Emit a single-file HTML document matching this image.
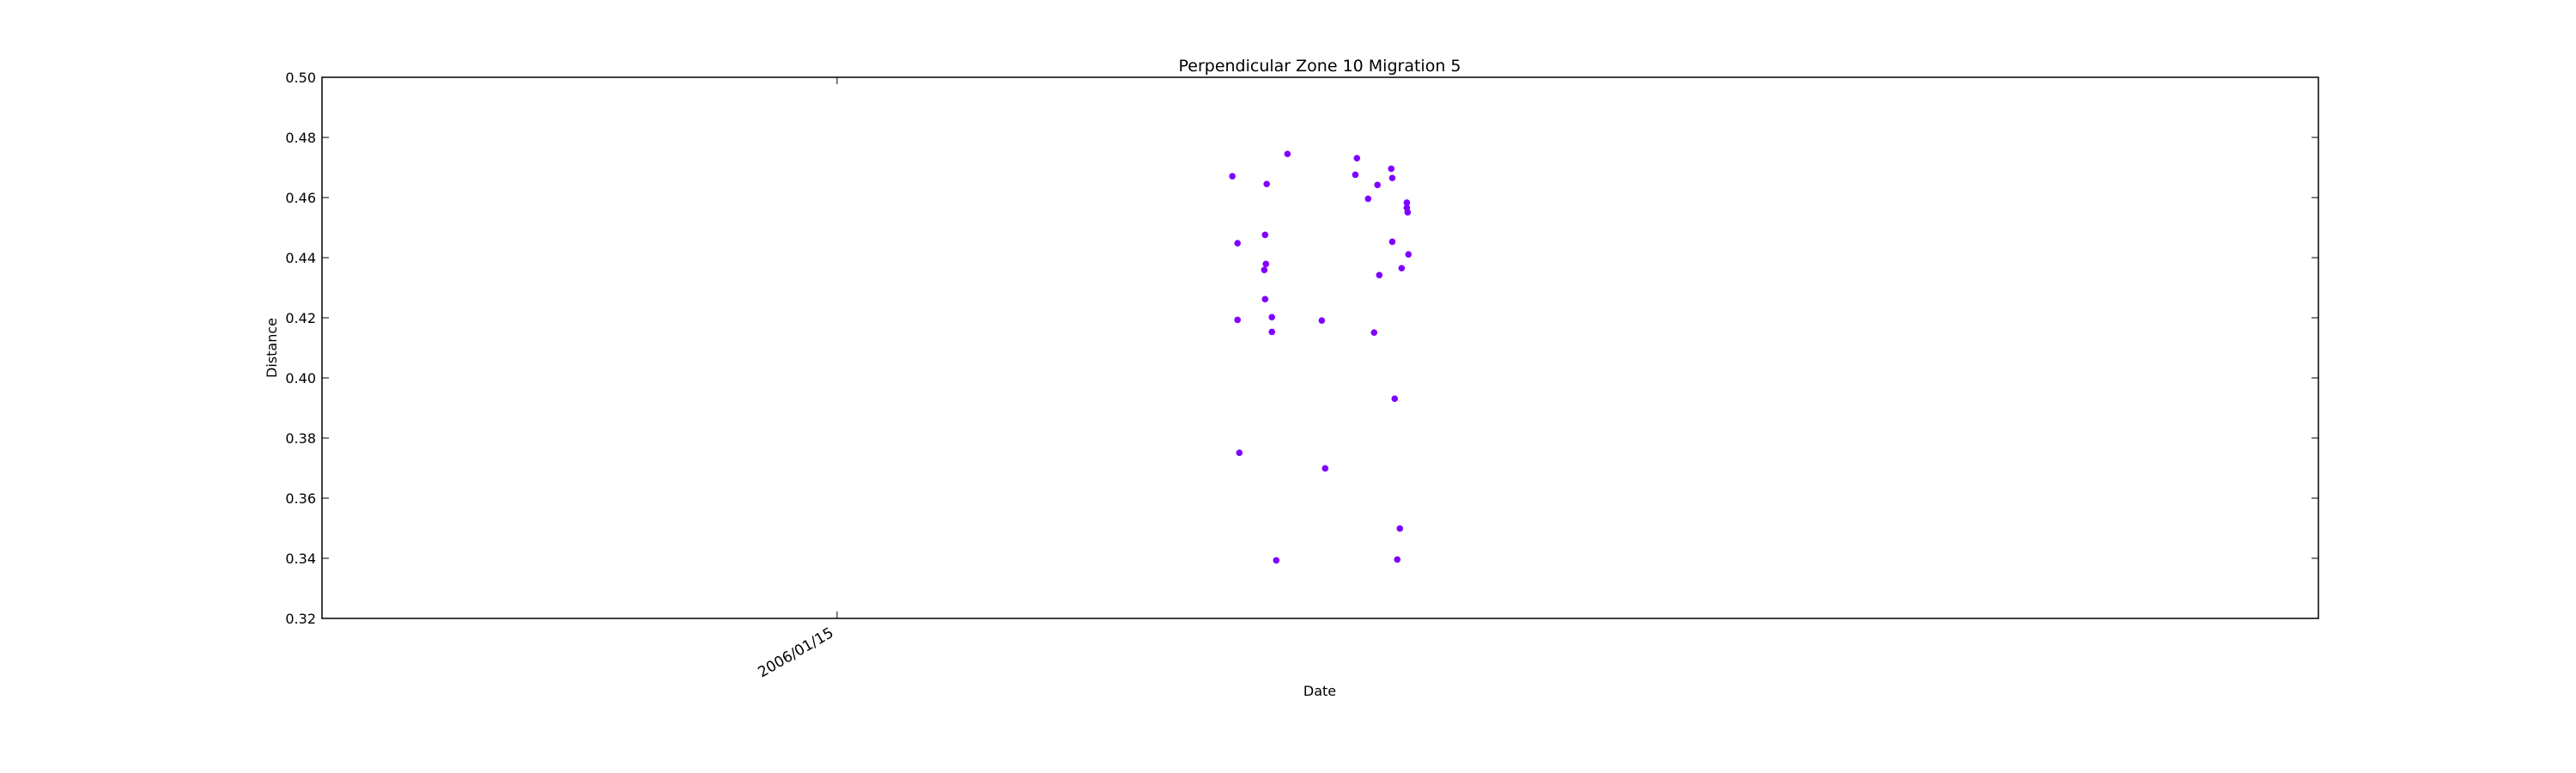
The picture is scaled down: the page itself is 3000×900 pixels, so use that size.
<!DOCTYPE html>
<html><head><meta charset="utf-8"><style>
html,body{margin:0;padding:0;background:#fff;width:3000px;height:900px;overflow:hidden}
svg{display:block;font-family:"DejaVu Sans","Liberation Sans",sans-serif}
</style></head><body>
<svg id="chart" width="3000" height="900">
<rect width="3000" height="900" fill="#fff"/>
<text x="1537" y="83" font-size="19" text-anchor="middle">Perpendicular Zone 10 Migration 5</text>
<text x="1537" y="810" font-size="16" text-anchor="middle">Date</text>
<text transform="translate(322,405) rotate(-90)" font-size="16" text-anchor="middle">Distance</text>
<g id="ticks"></g>
<g id="points"></g>
<rect x="375" y="90" width="2325" height="630" fill="none" stroke="#000" stroke-width="1.5"/>
</svg>
<script>
const yTicks = [0.32,0.34,0.36,0.38,0.40,0.42,0.44,0.46,0.48,0.50];
const yTickLabels = ["0.32","0.34","0.36","0.38","0.40","0.42","0.44","0.46","0.48","0.50"];
const xTicks = [25.8];
const xTickLabels = ["2006/01/15"];
const xValues = [48.36,45.60,47.32,51.84,51.76,53.56,53.61,52.87,52.40,54.34,54.34,54.38,47.24,45.86,53.61,54.42,47.28,47.20,54.08,52.96,47.24,45.86,47.58,50.08,47.58,52.70,53.73,45.95,50.25,53.99,47.80,53.86];
const yValues = [0.4745,0.4671,0.4645,0.4731,0.4676,0.4696,0.4665,0.4642,0.4596,0.4583,0.4566,0.4551,0.4476,0.4448,0.4453,0.4411,0.4379,0.4359,0.4365,0.4342,0.4262,0.4193,0.4202,0.4191,0.4153,0.4151,0.3931,0.3751,0.3699,0.3499,0.3393,0.3396];

const L=375,R=2700,T=90,B=720;
const xDomain=[0,100], yDomain=[0.32,0.50];
function xs(v){return L+(v-xDomain[0])/(xDomain[1]-xDomain[0])*(R-L);}
function ys(v){return B-(v-yDomain[0])/(yDomain[1]-yDomain[0])*(B-T);}
const NS="http://www.w3.org/2000/svg";
const tg=document.getElementById('ticks');
const pg=document.getElementById('points');
function mk(tag,attrs,parent){const e=document.createElementNS(NS,tag);for(const k in attrs)e.setAttribute(k,attrs[k]);parent.appendChild(e);return e;}

yTicks.forEach((v,i)=>{
  const y=ys(v);
  const a=mk('line',{x1:L,x2:L+8,y1:y,y2:y,stroke:'#000','stroke-width':1},tg);
  
  
  const b=mk('line',{x1:R-8,x2:R,y1:y,y2:y,stroke:'#000','stroke-width':1},tg);
  
  
  const t=mk('text',{x:368,y:y+6,'font-size':16,'text-anchor':'end'},tg);
  t.textContent=yTickLabels[i];
  
  
});
xTicks.forEach((v,i)=>{
  const x=xs(v);
  const a=mk('line',{x1:x,x2:x,y1:B-8,y2:B,stroke:'#000','stroke-width':1},tg);
  
  
  const b=mk('line',{x1:x,x2:x,y1:T,y2:T+8,stroke:'#000','stroke-width':1},tg);
  
  
  const t=mk('text',{transform:'translate('+(x-3)+','+(B+20)+') rotate(-30)','font-size':17,'text-anchor':'end'},tg);
  t.textContent=xTickLabels[i];
  
  
});
xValues.forEach((v,i)=>{
  const c=mk('circle',{cx:xs(v),cy:ys(yValues[i]),r:3.8,fill:'#7f00ff'},pg);
  
  
});
</script>
</body></html>
